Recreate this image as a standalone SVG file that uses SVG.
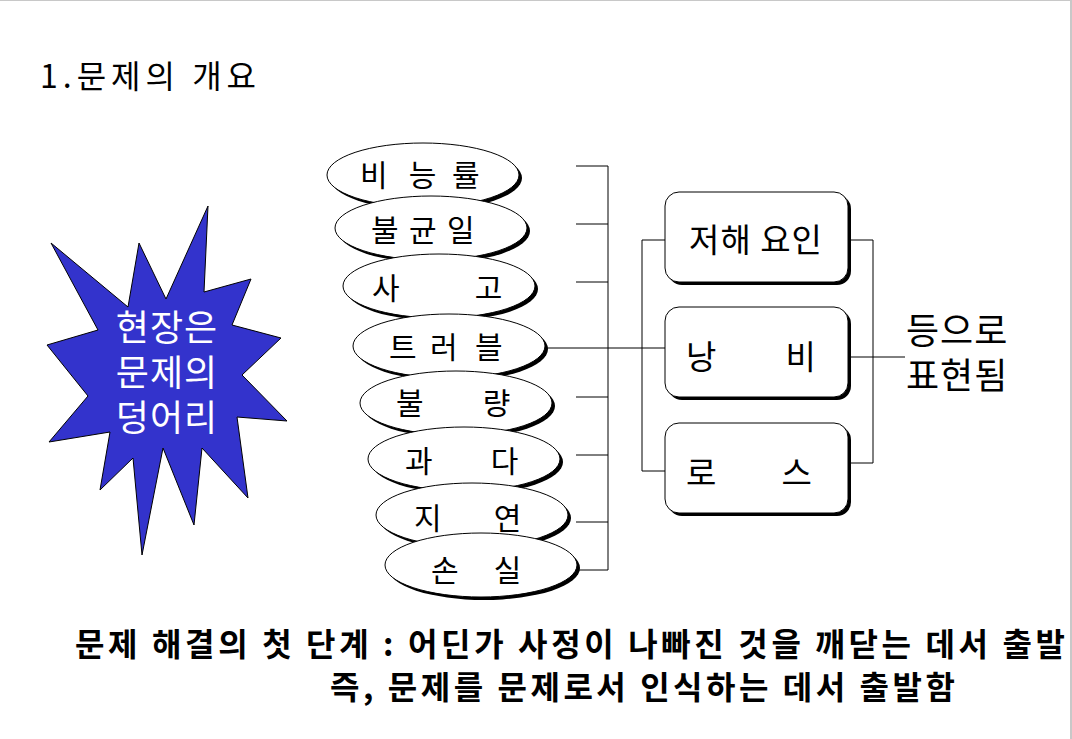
<svg xmlns="http://www.w3.org/2000/svg" width="1072" height="739" viewBox="0 0 1072 739">
<style>
.t{font-family:"Noto Sans CJK KR","Liberation Sans",sans-serif;fill:#000}
.el{font-size:30px}
.bx{font-size:33px}
.ell{fill:#fff;stroke:#000;stroke-width:1}
.sh{fill:#000}
.box{fill:#fff;stroke:#000;stroke-width:1}
.ln{fill:none;stroke:#000;stroke-width:1}
</style>
<rect x="0" y="0" width="1072" height="739" fill="#fff"/>
<line x1="0" y1="0.5" x2="1072" y2="0.5" stroke="#c8c8c8" stroke-width="1"/>
<rect x="1070" y="0" width="2" height="739" fill="#c8c8c8"/>

<text id="title" class="t" x="40" y="88" font-size="32" letter-spacing="5">1.문제의 개요</text>

<g id="star">
<polygon points="51,243 128,307 139,243 166,299 208,206 204,292 251,279 232,325 281,338 242,375 287,421 237,417 248,498 202,448 194,525 163,448 142,555 133,458 100,490 110,432 49,442 88,396 47,345 98,330" fill="#3333cc" stroke="#000" stroke-width="1"/>
<text class="t" font-size="36" letter-spacing="1" style="fill:#fff" text-anchor="middle"><tspan x="167" y="341">현장은</tspan><tspan x="167" y="386">문제의</tspan><tspan x="167" y="431">덩어리</tspan></text>
</g>

<g id="connectors">
<line class="ln" x1="576" y1="166" x2="608" y2="166"/>
<line class="ln" x1="576" y1="224" x2="608" y2="224"/>
<line class="ln" x1="576" y1="282" x2="608" y2="282"/>
<line class="ln" x1="576" y1="397" x2="608" y2="397"/>
<line class="ln" x1="576" y1="455" x2="608" y2="455"/>
<line class="ln" x1="576" y1="522" x2="608" y2="522"/>
<line class="ln" x1="578" y1="570" x2="608" y2="570"/>
<line class="ln" x1="608" y1="166" x2="608" y2="570"/>
<line class="ln" x1="545" y1="348" x2="665" y2="348"/>
<polyline class="ln" points="665,240 642,240 642,471 665,471"/>
<polyline class="ln" points="848,240 873,240 873,463 848,463"/>
<line class="ln" x1="848" y1="357" x2="905" y2="357"/>
</g>

<g id="e1"><ellipse class="sh" cx="426" cy="178" rx="96" ry="32"/><ellipse class="ell" cx="423" cy="175" rx="96" ry="32"/>
<text class="t el" y="186"><tspan x="360">비</tspan><tspan x="402"> 능</tspan><tspan x="452">률</tspan></text></g>
<g id="e2"><ellipse class="sh" cx="434" cy="231" rx="96" ry="32"/><ellipse class="ell" cx="431" cy="228" rx="96" ry="32"/>
<text class="t el" y="241"><tspan x="371">불</tspan><tspan x="409">균</tspan><tspan x="447">일</tspan></text></g>
<g id="e3"><ellipse class="sh" cx="442" cy="289" rx="96" ry="32"/><ellipse class="ell" cx="439" cy="286" rx="96" ry="32"/>
<text class="t el" y="299"><tspan x="372">사</tspan><tspan x="468"> 고</tspan></text></g>
<g id="e4"><ellipse class="sh" cx="452" cy="349" rx="96" ry="32"/><ellipse class="ell" cx="449" cy="346" rx="96" ry="32"/>
<text class="t el" y="358"><tspan x="389">트</tspan><tspan x="430">러</tspan><tspan x="475">블</tspan></text></g>
<g id="e5"><ellipse class="sh" cx="459" cy="406" rx="96" ry="32"/><ellipse class="ell" cx="456" cy="403" rx="96" ry="32"/>
<text class="t el" y="414"><tspan x="396">불</tspan><tspan x="476"> 량</tspan></text></g>
<g id="e6"><ellipse class="sh" cx="467" cy="462" rx="96" ry="32"/><ellipse class="ell" cx="464" cy="459" rx="96" ry="32"/>
<text class="t el" y="472"><tspan x="405">과</tspan><tspan x="484"> 다</tspan></text></g>
<g id="e7"><ellipse class="sh" cx="475" cy="518" rx="96" ry="32"/><ellipse class="ell" cx="472" cy="515" rx="96" ry="32"/>
<text class="t el" y="529"><tspan x="414">지</tspan><tspan x="487"> 연</tspan></text></g>
<g id="e8"><ellipse class="sh" cx="484" cy="568" rx="96" ry="32"/><ellipse class="ell" cx="481" cy="565" rx="96" ry="32"/>
<text class="t el" y="581"><tspan x="431">손</tspan><tspan x="487"> 실</tspan></text></g>

<g id="b1"><rect class="sh" x="668" y="195" width="183" height="90" rx="14"/><rect class="box" x="665" y="192" width="183" height="90" rx="14"/>
<text class="t bx" x="756" y="252" text-anchor="middle" letter-spacing="1">저해 요인</text></g>
<g id="b2"><rect class="sh" x="668" y="310" width="183" height="90" rx="14"/><rect class="box" x="665" y="307" width="183" height="90" rx="14"/>
<text class="t bx" y="369"><tspan x="686">낭</tspan><tspan x="778"> 비</tspan></text></g>
<g id="b3"><rect class="sh" x="668" y="426" width="183" height="90" rx="14"/><rect class="box" x="665" y="423" width="183" height="90" rx="14"/>
<text class="t bx" y="485"><tspan x="686">로</tspan><tspan x="774"> 스</tspan></text></g>

<g id="result"><text class="t" font-size="36" letter-spacing="1"><tspan x="906" y="344">등으로</tspan><tspan x="906" y="389">표현됨</tspan></text></g>

<g id="note"><text class="t" font-size="32" font-weight="bold"><tspan x="75" y="656" textLength="990" lengthAdjust="spacing">문제 해결의 첫 단계 : 어딘가 사정이 나빠진 것을 깨닫는 데서 출발</tspan><tspan x="330" y="699" textLength="625" lengthAdjust="spacing">즉, 문제를 문제로서 인식하는 데서 출발함</tspan></text></g>
</svg>
